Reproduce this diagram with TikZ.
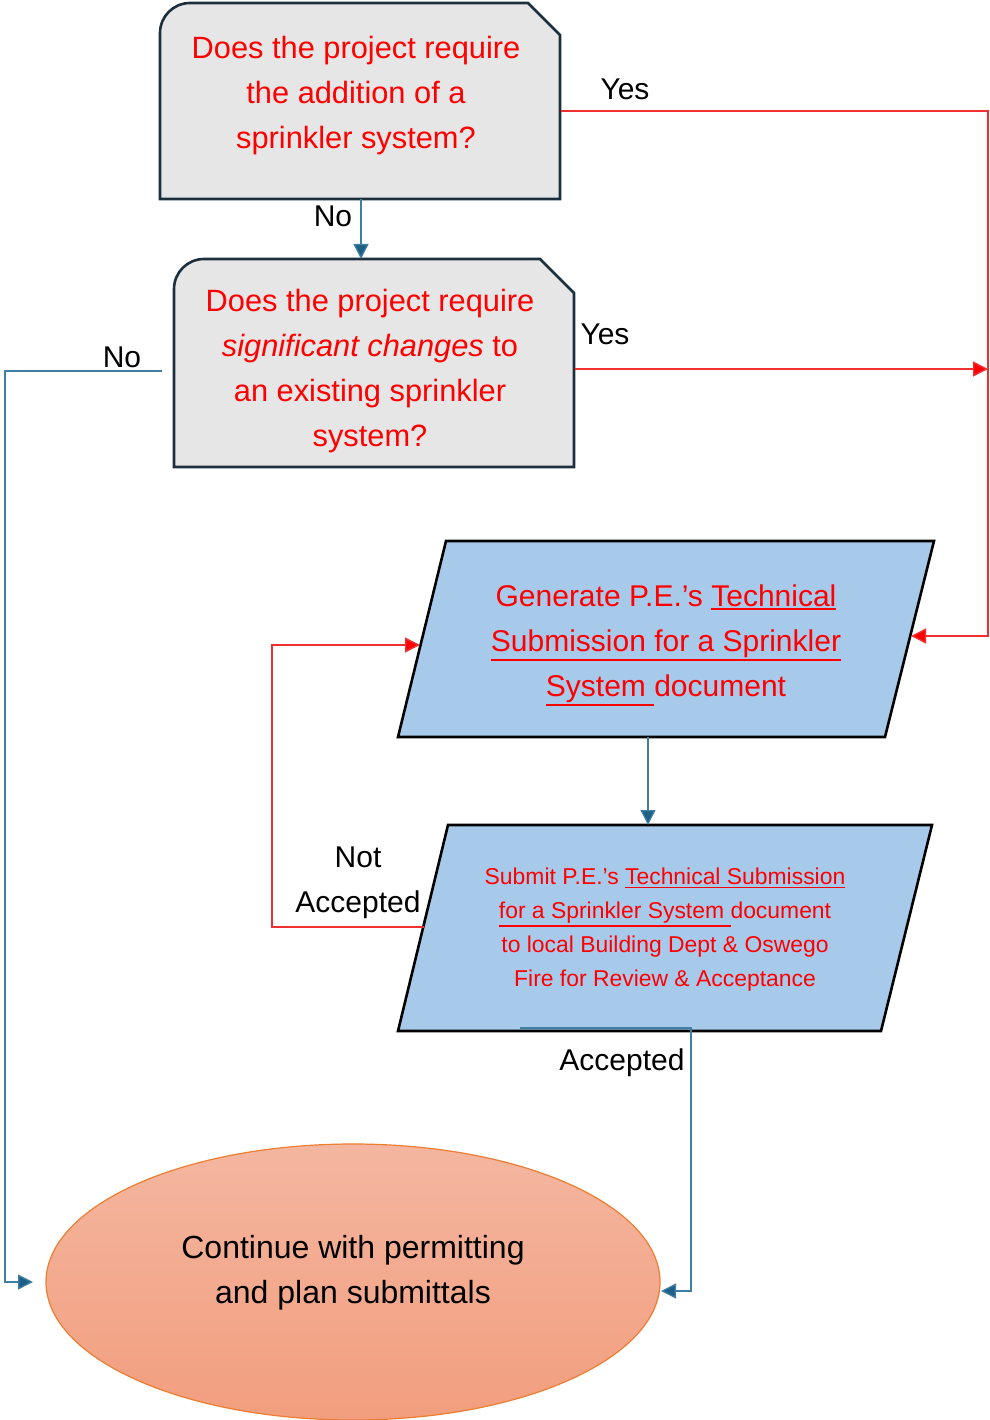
\documentclass[tikz,border=0pt]{standalone}
\usepackage{fontspec}
\setmainfont{Liberation Sans}
\usetikzlibrary{arrows.meta,calc,shapes.geometric}
\newcommand\myul[1]{\leavevmode\vtop{\hbox{#1}\kern1.8pt\hrule height 1.4pt}}
\definecolor{boxgray}{HTML}{E7E6E6}
\definecolor{boxedge}{HTML}{1B2F3D}
\definecolor{parafill}{HTML}{A7C9EA}
\definecolor{arrblue}{HTML}{1D5F86}
\definecolor{lineblue}{HTML}{3F7FA3}
\definecolor{txtred}{HTML}{FF0000}
\definecolor{linered}{HTML}{F03030}
\definecolor{elltop}{HTML}{F4B6A0}
\definecolor{ellbot}{HTML}{F29E7E}
\definecolor{elledge}{HTML}{ED7D31}
\begin{document}
\begin{tikzpicture}[x=1pt,y=-1pt,
  qbox/.style={draw=boxedge,line width=2.6pt,fill=boxgray,line join=miter},
  pbox/.style={draw=black,line width=2.6pt,fill=parafill,line join=miter},
  qtext/.style={text=txtred,align=center,font=\fontsize{30.8}{45}\selectfont,inner sep=0pt},
  ptext/.style={text=txtred,align=center,font=\fontsize{30}{45}\selectfont,inner sep=0pt},
  stext/.style={text=txtred,align=center,font=\fontsize{22.9}{34}\selectfont,inner sep=0pt},
  lbl/.style={text=black,font=\fontsize{30}{45}\selectfont,inner sep=0pt,align=center},
  bluearrow/.style={draw=lineblue,line width=1.3pt,-{Triangle[length=15pt,width=15pt,fill=arrblue]}},
  redarrow/.style={draw=linered,line width=1.4pt,-{Triangle[length=15pt,width=15pt,fill=txtred]}},
  redline/.style={draw=linered,line width=1.4pt},
  blueline/.style={draw=lineblue,line width=1.3pt}]
\useasboundingbox (0,0) rectangle (989,1420);

% decision box 1
\draw[qbox] (160,199) -- (160,100) [rounded corners=30pt] -- (160,3) -- (300,3) [sharp corners] -- (528,3) -- (560,35) -- (560,199) -- cycle;
\node[qtext] (q1) at (356,96) {Does the project require\\the addition of a\\sprinkler system?};

% decision box 2
\draw[qbox] (174,467) -- (174,360) [rounded corners=30pt] -- (174,259) -- (300,259) [sharp corners] -- (540,259) -- (574,293) -- (574,467) -- cycle;
\node[qtext] (q2) at (370,371) {Does the project require\\\textit{significant changes} to\\an existing sprinkler\\system?};

% parallelogram 1
\draw[pbox] (446,541) -- (934,541) -- (885,737) -- (398,737) -- cycle;
\node[ptext] (p1) at (666,645) {Generate P.E.’s \myul{Technical}\\\myul{Submission for a Sprinkler}\\\myul{System\ }document};

% parallelogram 2
\draw[pbox] (448,825) -- (932,825) -- (881,1031) -- (398,1031) -- cycle;
\node[stext] (p2) at (665,930) {Submit P.E.’s \myul{Technical Submission}\\\myul{for a Sprinkler System\ }document\\to local Building Dept \& Oswego\\Fire for Review \& Acceptance};

% terminal ellipse
\node[ellipse,draw=elledge,line width=1.2pt,top color=elltop,bottom color=ellbot,minimum width=614pt,minimum height=276pt,inner sep=0pt] (e) at (353,1282) {};
\node[text=black,align=center,font=\fontsize{32}{45}\selectfont,inner sep=0pt] (et) at (353,1273) {Continue with permitting\\and plan submittals};

% connector end points
\coordinate (q1b) at (361,199);
\coordinate (q2t) at (361,259);
\coordinate (q1r) at (561,111);
\coordinate (q2r) at (575,369);
\coordinate (rj) at (988,111);
\coordinate (rj2) at (988,369);
\coordinate (p1r) at (911,636);
\coordinate (p1l) at (420,645);
\coordinate (p1b) at (648,737);
\coordinate (p2t) at (648,825);
\coordinate (p2l) at (424,927);
\coordinate (nj) at (272,927);
\coordinate (nos) at (162,371);
\coordinate (lj) at (5,371);
\coordinate (eL) at (33,1282);
\coordinate (acs) at (520,1028);
\coordinate (acj) at (691,1028);
\coordinate (eR) at (661,1291);

% connectors
\draw[bluearrow] (q1b) -- (q2t);
\draw[redarrow] (q1r) -- (rj) |- (p1r);
\draw[redarrow] (q2r) -- (rj2);
\draw[bluearrow] (nos) -- (lj) |- (eL);
\draw[bluearrow] (p1b) -- (p2t);
\draw[redarrow] (p2l) -- (nj) |- (p1l);
\draw[bluearrow] (acs) -- (acj) |- (eR);

% labels
\node[lbl] (lyes1) at (625,89) {Yes};
\node[lbl] (lyes2) at (605,334) {Yes};
\node[lbl] (lno1) at (333,216) {No};
\node[lbl] (lno2) at (122,357) {No};
\node[lbl] (lna) at (358,883) {Not\\Accepted};
\node[lbl] (lacc) at (622,1063) {Accepted};
\end{tikzpicture}
\end{document}
